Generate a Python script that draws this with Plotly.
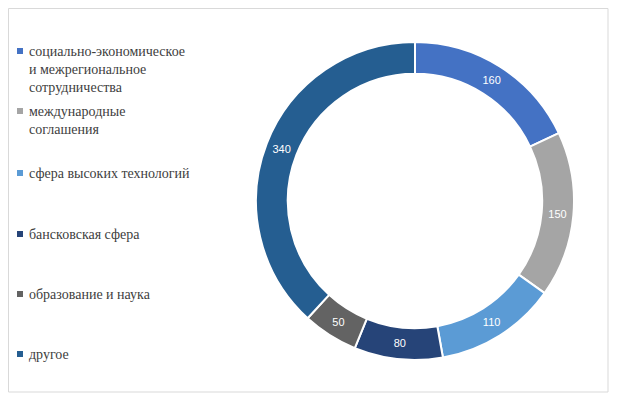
import plotly.graph_objects as go

labels = ["социально-экономическое<br>и межрегиональное<br>сотрудничества", "международные<br>соглашения",
          "сфера высоких технологий", "бансковская сфера", "образование и наука", "другое"]
values = [160, 150, 110, 80, 50, 340]
colors = ["#4472C4", "#A5A5A5", "#5B9BD5", "#264478", "#636363", "#255E91"]

W, H = 617, 401
off = 8
fig = go.Figure(go.Pie(
    values=values, labels=labels, hole=0.8, sort=False, direction="clockwise", rotation=0,
    marker=dict(colors=colors, line=dict(color="white", width=2)),
    textinfo="value", textposition="inside", insidetextorientation="horizontal",
    textfont=dict(color="white", size=11, family="Liberation Sans"),
    domain=dict(x=[(256-off)/W, (574-off)/W], y=[1-(360-off)/H, 1-(42-off)/H]), showlegend=False,
))
legend_y = [42, 102, 164, 225, 285, 345]
shapes = [dict(type="rect", xref="paper", yref="paper", x0=0.5/W, x1=(W-2*off-1)/W,
               y0=1-(H-2*off-1)/H, y1=1-0.5/H, line=dict(color="#D9D9D9", width=1))]
annotations = []
for lab, c, y in zip(labels, colors, legend_y):
    y -= off
    shapes.append(dict(type="rect", xref="paper", yref="paper", x0=(17-off)/W, x1=(23-off)/W,
                       y0=1-(y+12)/H, y1=1-(y+6)/H, fillcolor=c, line=dict(width=0)))
    annotations.append(dict(xref="paper", yref="paper", x=(27-off)/W, y=1-y/H, xanchor="left", yanchor="top",
                            text=lab, showarrow=False, align="left",
                            font=dict(family="'Liberation Serif', 'Times New Roman', serif", size=14, color="#404040")))
fig.update_layout(width=W, height=H, margin=dict(l=0, r=0, t=0, b=0),
                  paper_bgcolor="white", shapes=shapes, annotations=annotations)
fig.write_html("out.html")
